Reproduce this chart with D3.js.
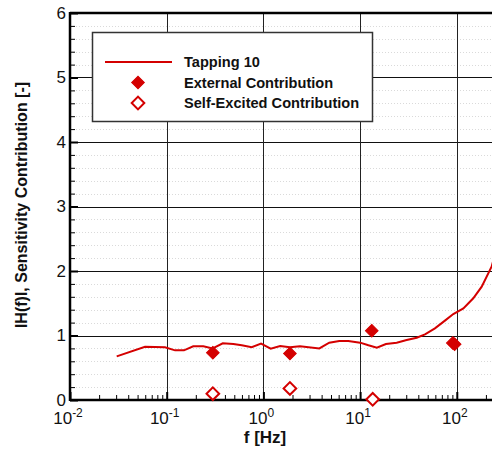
<!DOCTYPE html>
<html><head><meta charset="utf-8">
<script src="https://cdn.jsdelivr.net/npm/d3@7"></script>
<style>body{margin:0;background:#fff;} svg{display:block;font-family:"Liberation Sans",Arial,sans-serif;}</style>
</head><body><svg id="c" width="492" height="450"></svg>
<script>
const lineF = [0.0304,0.0597,0.096,0.122,0.151,0.188,0.239,0.299,0.38,0.489,0.597,0.757,0.946,1.19,1.49,1.88,2.39,3.79,4.80,6.09,7.55,10,12.2,14.9,18.5,23.9,30.3,38.5,46.9,59.4,75.4,92,117,148,181,229,270];
const lineV = [0.677,0.826,0.817,0.77,0.77,0.832,0.832,0.80,0.879,0.868,0.848,0.817,0.873,0.795,0.837,0.817,0.832,0.80,0.889,0.915,0.915,0.889,0.848,0.811,0.868,0.889,0.93,0.966,1.018,1.11,1.23,1.333,1.42,1.577,1.757,2.067,2.45];
const extF = [0.30,1.88,13.2,91,95];
const extV = [0.734,0.72,1.075,0.885,0.865];
const selfF = [0.30,1.88,13.5];
const selfV = [0.098,0.18,0.01];
const yTicks = [0,1,2,3,4,5,6];
const xDecades = [-2,-1,0,1,2];
const legendLabels = ["Tapping 10","External Contribution","Self-Excited Contribution"];
const red = "#d40000";

const svg = d3.select("#c");
const L = 70, R = 493, T = 13, B = 400;
const x = d3.scaleLog().domain([0.01, Math.pow(10, -2 + (R - L) / 96.7)]).range([L, R]);
const y = d3.scaleLinear().domain([0, 6]).range([B, T]);

svg.append("defs").append("clipPath").attr("id","clip").append("rect")
  .attr("x", L).attr("y", T).attr("width", R - L).attr("height", B - T);

// minor horizontal gridlines (dotted)
const minorY = d3.range(0, 6.001, 0.2).filter(v => Math.abs(v - Math.round(v)) > 1e-6);
svg.append("g").selectAll("line").data(minorY).join("line")
  .attr("x1", L).attr("x2", R).attr("y1", d => Math.round(y(d)) + 0.5).attr("y2", d => Math.round(y(d)) + 0.5)
  .attr("stroke", "#dadada").attr("stroke-width", 1).attr("stroke-dasharray", "1,2");
// major gridlines
svg.append("g").selectAll("line").data(yTicks.slice(1, 6)).join("line")
  .attr("x1", L).attr("x2", R).attr("y1", d => Math.round(y(d)) + 0.5).attr("y2", d => Math.round(y(d)) + 0.5)
  .attr("stroke", "#111").attr("stroke-width", 1);
svg.append("g").selectAll("line").data(xDecades.slice(1)).join("line")
  .attr("y1", T).attr("y2", B).attr("x1", d => Math.round(x(Math.pow(10, d))) + 0.5).attr("x2", d => Math.round(x(Math.pow(10, d))) + 0.5)
  .attr("stroke", "#222").attr("stroke-width", 1);

// Y axis
const yAxis = d3.axisLeft(y).tickValues(yTicks).tickSize(-8).tickPadding(12).tickFormat(d3.format("d"));
const gy = svg.append("g").attr("transform", `translate(${L},0)`).call(yAxis);
gy.select(".domain").remove();
gy.selectAll(".tick line").attr("stroke", "#000").attr("stroke-width", 2);
gy.selectAll(".tick text").attr("font-size", 17).attr("fill", "#111").attr("x", -4).attr("text-anchor", "end");
const yMinor = d3.axisLeft(y).tickValues(minorY).tickSize(-5).tickFormat("");
const gym = svg.append("g").attr("transform", `translate(${L},0)`).call(yMinor);
gym.select(".domain").remove();
gym.selectAll(".tick line").attr("stroke", "#000").attr("stroke-width", 1);

// X axis
const majorX = xDecades.map(d => Math.pow(10, d));
const minorX = [];
xDecades.forEach(d => { for (let k = 2; k <= 9; k++) { const v = k * Math.pow(10, d); if (x(v) <= R) minorX.push(v); } });
const xAxis = d3.axisBottom(x).tickValues(majorX).tickSize(-8).tickFormat("");
const gx = svg.append("g").attr("transform", `translate(0,${B})`).call(xAxis);
gx.select(".domain").remove();
gx.selectAll(".tick line").attr("stroke", "#000").attr("stroke-width", 2);
const gxm = svg.append("g").attr("transform", `translate(0,${B})`).call(d3.axisBottom(x).tickValues(minorX).tickSize(-5).tickFormat(""));
gxm.select(".domain").remove();
gxm.selectAll(".tick line").attr("stroke", "#000").attr("stroke-width", 1);
// x tick labels with superscripts
const xl = svg.append("g").selectAll("text").data(xDecades).join("text")
  .attr("x", d => x(Math.pow(10, d)) - 2).attr("y", B + 24).attr("text-anchor", "middle")
  .attr("font-size", 17).attr("fill", "#111");
xl.append("tspan").text("10");
xl.append("tspan").attr("dy", -7).attr("font-size", 12).text(d => String(d));

// frame lines
svg.append("line").attr("x1", L).attr("x2", R).attr("y1", B).attr("y2", B).attr("stroke", "#000").attr("stroke-width", 2.5);
svg.append("line").attr("x1", L).attr("x2", R).attr("y1", T).attr("y2", T).attr("stroke", "#000").attr("stroke-width", 2.5);
svg.append("line").attr("x1", L).attr("x2", L).attr("y1", T - 1).attr("y2", B + 1).attr("stroke", "#000").attr("stroke-width", 2.5);

// data line
const pts = lineF.map((f, i) => [f, lineV[i]]);
svg.append("path").datum(pts).attr("clip-path", "url(#clip)")
  .attr("d", d3.line().x(d => x(d[0])).y(d => y(d[1])))
  .attr("fill", "none").attr("stroke", red).attr("stroke-width", 2);

const diamond = d3.symbol().type(d3.symbolSquare).size(80)();
svg.append("g").selectAll("path").data(extF.map((f, i) => [f, extV[i]])).join("path")
  .attr("d", diamond).attr("transform", d => `translate(${x(d[0])},${y(d[1])}) rotate(45)`)
  .attr("fill", red).attr("stroke", red).attr("stroke-width", 1);
svg.append("g").selectAll("path").data(selfF.map((f, i) => [f, selfV[i]])).join("path")
  .attr("d", diamond).attr("transform", d => `translate(${x(d[0])},${y(d[1])}) rotate(45)`)
  .attr("fill", "#fff").attr("stroke", red).attr("stroke-width", 2);

// legend
const lg = svg.append("g");
lg.append("rect").attr("x", 92.5).attr("y", 32.5).attr("width", 280).attr("height", 89)
  .attr("fill", "#fff").attr("stroke", "#333").attr("stroke-width", 1.5);
const rows = [62, 82.5, 103];
lg.append("line").attr("x1", 105).attr("x2", 172).attr("y1", rows[0]).attr("y2", rows[0]).attr("stroke", red).attr("stroke-width", 2);
lg.append("path").attr("d", diamond).attr("transform", `translate(138,${rows[1]}) rotate(45)`).attr("fill", red).attr("stroke", red);
lg.append("path").attr("d", diamond).attr("transform", `translate(138,${rows[2]}) rotate(45)`).attr("fill", "#fff").attr("stroke", red).attr("stroke-width", 2);
lg.selectAll("text.l").data(legendLabels).join("text").attr("class", "l")
  .attr("x", 184).attr("y", (d, i) => rows[i] + 5).attr("font-size", 14.6).attr("font-weight", "bold").attr("fill", "#111").text(d => d);

// axis titles
svg.append("text").attr("x", 265).attr("y", 443).attr("text-anchor", "middle")
  .attr("font-size", 17).attr("font-weight", "bold").attr("fill", "#111").text("f [Hz]");
svg.append("text").attr("transform", "translate(27,205) rotate(-90)").attr("text-anchor", "middle")
  .attr("font-size", 16).attr("font-weight", "bold").attr("fill", "#111").text("IH(f)I, Sensitivity Contribution [-]");
</script></body></html>
